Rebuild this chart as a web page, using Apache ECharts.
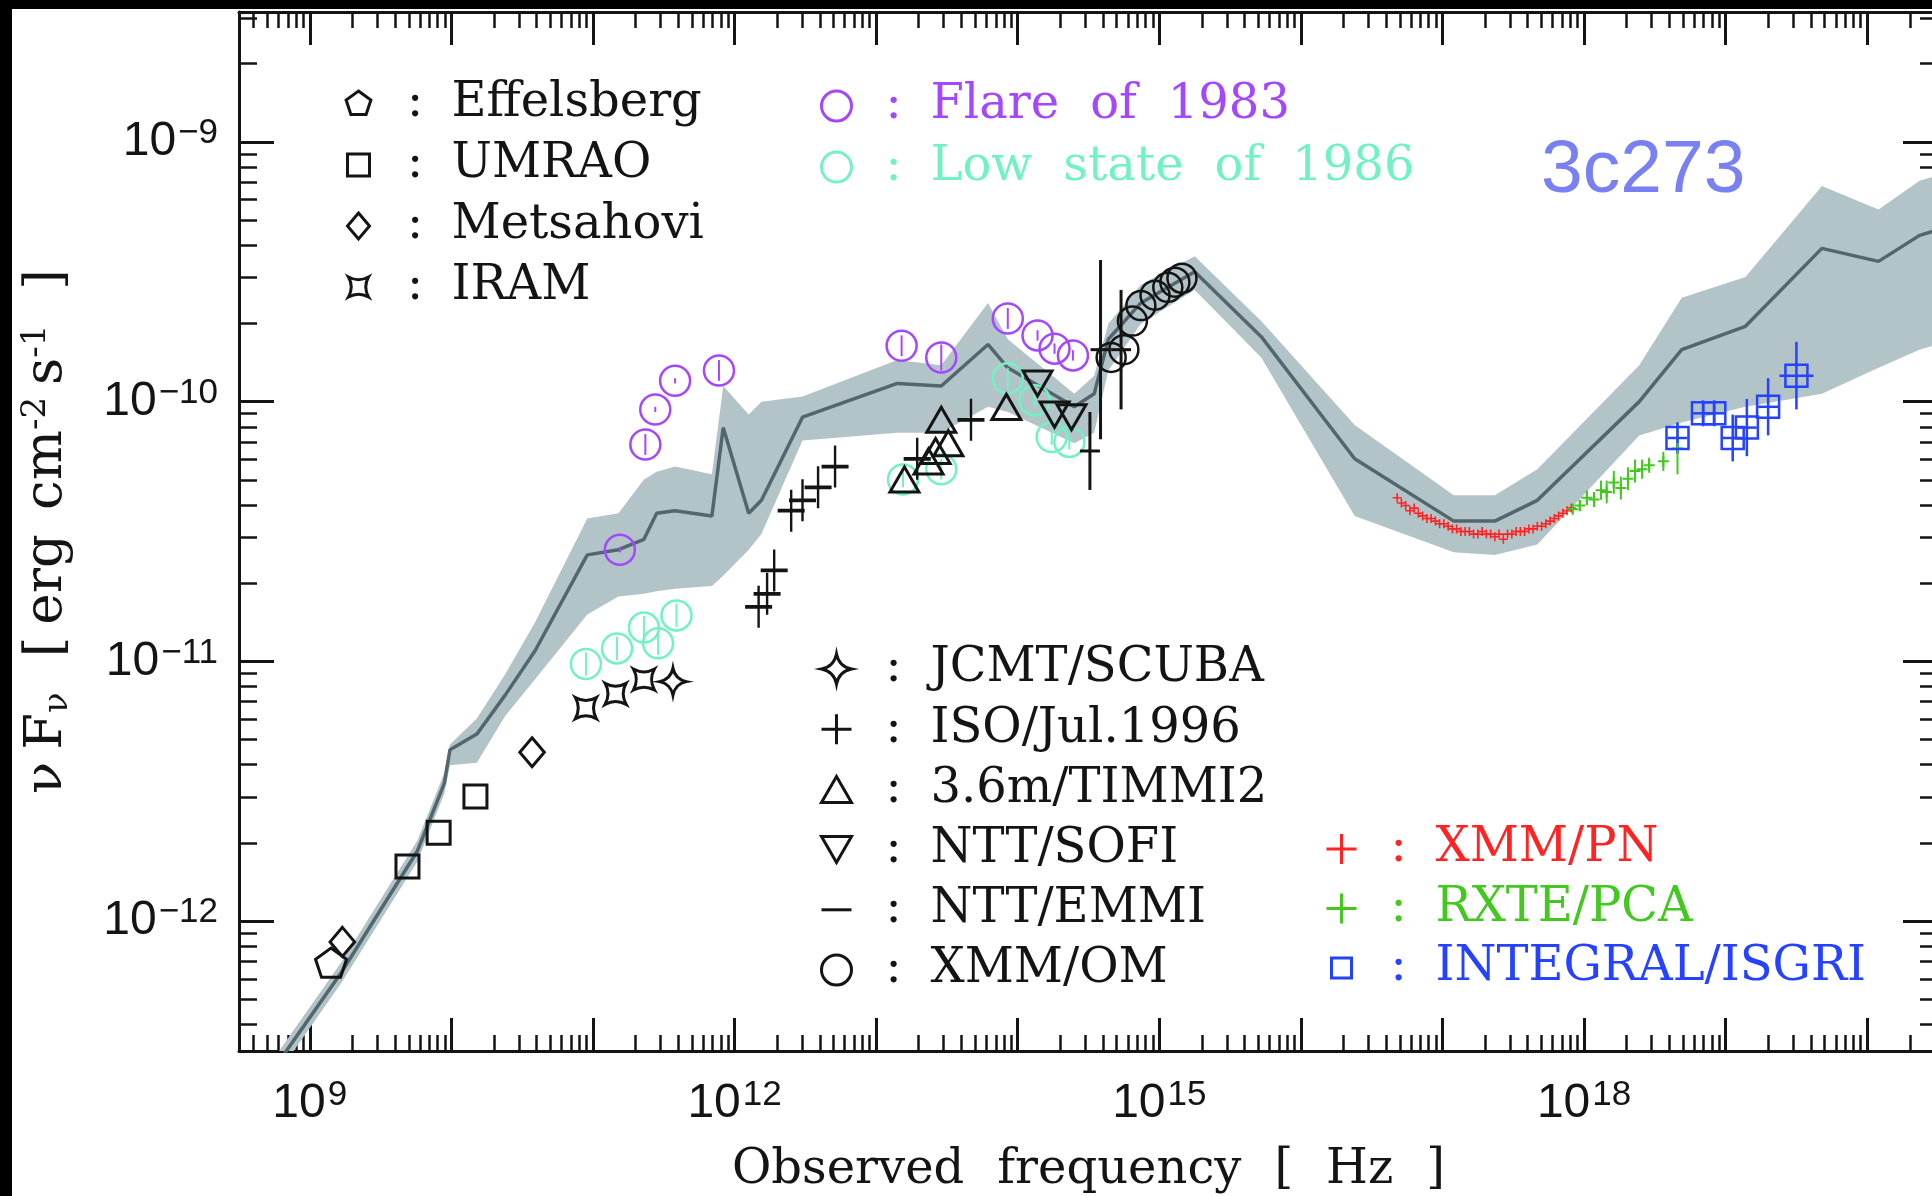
<!DOCTYPE html>
<html><head><meta charset="utf-8">
<script src="https://cdn.jsdelivr.net/npm/echarts@6/dist/echarts.min.js"></script>
<style>html,body{margin:0;padding:0;background:#fff}#c{width:1932px;height:1196px}</style>
</head><body><div id="c"></div>
<script>
// All values: [log10(frequency / Hz), log10(nuFnu / erg cm^-2 s^-1)]
const effelsberg = [[9.15, -12.16]];
const umrao = [[9.69, -11.79], [9.91, -11.66], [10.17, -11.52]];
const metsahovi = [[9.23, -12.08], [10.57, -11.35]];
const iram = [[10.95, -11.18], [11.16, -11.125], [11.36, -11.07]];
const jcmt = [[11.565, -11.078]];
const flare1983 = [[11.19, -10.57], [11.37, -10.165], [11.44, -10.03], [11.58, -9.92], [11.89, -9.88],
  [13.18, -9.785], [13.46, -9.83], [13.93, -9.68], [14.14, -9.745], [14.26, -9.796], [14.39, -9.822]];
const flareErr = [0.01, 0.04, 0.01, 0.01, 0.04, 0.04, 0.05, 0.04, 0.02, 0.02, 0.02];
const lowState1986 = [[10.95, -11.01], [11.17, -10.95], [11.36, -10.87], [11.46, -10.93], [11.59, -10.823],
  [13.19, -10.30], [13.46, -10.26], [13.93, -9.91], [14.12, -9.995], [14.24, -10.136], [14.365, -10.155]];
const lowErr = [0.045, 0.045, 0.045, 0.045, 0.045, 0.03, 0.04, 0.04, 0.03, 0.03, 0.03];
const iso = [[12.17, -10.79], [12.23, -10.74], [12.28, -10.65], [12.40, -10.42], [12.48, -10.38],
  [12.59, -10.33], [12.71, -10.25], [13.29, -10.22], [13.67, -10.07]];
const timmi2 = [[13.20, -10.30], [13.37, -10.23], [13.42, -10.19], [13.46, -10.07], [13.51, -10.16], [13.92, -10.02]];
const sofi = [[14.14, -9.93], [14.26, -10.05], [14.38, -10.06]];
const emmi = [[14.51, -10.19], [14.585, -9.80], [14.73, -9.80]];
const emmiErr = [0.15, 0.345, 0.23];
const xmmOM = [[14.66, -9.83], [14.75, -9.80], [14.81, -9.69], [14.87, -9.63], [14.97, -9.59],
  [15.06, -9.56], [15.11, -9.54], [15.16, -9.525]];
const xmmPN = [[16.68, -10.37], [16.71, -10.39], [16.74, -10.40], [16.77, -10.42], [16.80, -10.41], [16.83, -10.43],
  [16.86, -10.44], [16.89, -10.45], [16.92, -10.45], [16.95, -10.46], [16.98, -10.47], [17.01, -10.47],
  [17.04, -10.48], [17.07, -10.49], [17.10, -10.49], [17.13, -10.50], [17.16, -10.50], [17.19, -10.50],
  [17.22, -10.51], [17.25, -10.51], [17.28, -10.50], [17.31, -10.51], [17.34, -10.51], [17.37, -10.52],
  [17.40, -10.51], [17.43, -10.53], [17.46, -10.51], [17.49, -10.51], [17.52, -10.50], [17.55, -10.50],
  [17.58, -10.50], [17.61, -10.49], [17.64, -10.49], [17.67, -10.48], [17.70, -10.48], [17.73, -10.47],
  [17.76, -10.46], [17.79, -10.45], [17.82, -10.44], [17.85, -10.43], [17.88, -10.42], [17.91, -10.41]];
const rxte = [[17.92, -10.414], [17.97, -10.40], [18.02, -10.37], [18.07, -10.377], [18.12, -10.341],
  [18.16, -10.348], [18.21, -10.311], [18.26, -10.333], [18.31, -10.297], [18.36, -10.267],
  [18.41, -10.26], [18.46, -10.245], [18.56, -10.23], [18.66, -10.18]];
const rxteErr = [0.015, 0.022, 0.029, 0.029, 0.037, 0.044, 0.044, 0.044, 0.044, 0.044, 0.037, 0.029, 0.037, 0.10];
const integral = [[18.66, -10.14], [18.84, -10.045], [18.92, -10.045], [19.05, -10.14], [19.15, -10.10],
  [19.30, -10.02], [19.50, -9.90]];
const integralYErr = [0.06, 0.05, 0.05, 0.09, 0.11, 0.11, 0.13];
const integralXErr = [0.07, 0.07, 0.07, 0.07, 0.07, 0.07, 0.12];
// average SED (line) and its envelope (grey band)
const bandFreq = [8.50, 9.22, 9.76, 9.95, 9.99, 10.18, 10.38, 10.59, 10.96, 11.18, 11.36, 11.45, 11.58, 11.84, 11.92,
  12.10, 12.19, 12.48, 13.15, 13.46, 13.79, 13.93, 14.40, 14.54, 14.64, 14.87, 15.25, 15.72, 16.38, 17.08,
  17.37, 17.67, 18.39, 18.69, 19.14, 19.68, 20.08, 20.37, 20.55];
const bandMean = [-12.76, -12.20, -11.73, -11.47, -11.34, -11.28, -11.13, -10.96, -10.59, -10.57, -10.53, -10.43,
  -10.42, -10.44, -10.10, -10.43, -10.38, -10.06, -9.93, -9.94, -9.78, -9.87, -10.02, -9.97, -9.76, -9.62,
  -9.50, -9.75, -10.22, -10.46, -10.46, -10.38, -10.00, -9.80, -9.71, -9.41, -9.46, -9.36, -9.33];
const bandLow = [-12.80, -12.24, -11.77, -11.51, -11.40, -11.39, -11.21, -11.07, -10.82, -10.75, -10.74, -10.73,
  -10.72, -10.71, -10.67, -10.57, -10.51, -10.15, -10.12, -10.12, -10.02, -10.04, -10.16, -10.12, -9.88, -9.70,
  -9.57, -9.83, -10.44, -10.58, -10.59, -10.55, -10.13, -10.08, -10.02, -9.97, -9.87, -9.80, -9.77];
const bandHigh = [-12.72, -12.16, -11.69, -11.43, -11.32, -11.22, -11.05, -10.85, -10.45, -10.43, -10.30, -10.27,
  -10.25, -10.28, -9.94, -10.05, -10.00, -9.98, -9.84, -9.86, -9.62, -9.76, -9.97, -9.90, -9.70, -9.55,
  -9.44, -9.69, -10.09, -10.36, -10.36, -10.26, -9.86, -9.60, -9.52, -9.17, -9.26, -9.15, -9.12];
// axes (exponents)
const xRange = [8.5, 20.5];
const yRange = [-12.5, -8.5];
const xMajorExp = [9, 10, 11, 12, 13, 14, 15, 16, 17, 18, 19, 20];
const xLabelExp = [9, 12, 15, 18];
const yMajorExp = [-12, -11, -10, -9];

const P = v => Math.pow(10, v);
const INK = '#141414';
const PURPLE = '#a448ff', AQUA = '#72f2c4', RED = '#ff2424', GREEN = '#42c81e', BLUE = '#2442ff';
const SERIF = 'DejaVu Serif', SANS = 'Liberation Sans';

const minorOf = (lo, hi) => { const r = []; for (let n = Math.floor(lo); n <= Math.ceil(hi); n++) for (let k = 2; k <= 9; k++) { const v = k * Math.pow(10, n); if (v > P(lo) && v < P(hi)) r.push(v); } return r; };
const xMinor = minorOf(xRange[0], xRange[1]);
const yMinor = minorOf(yRange[0], yRange[1]);

const SYM = {
  pent: 'path://M0,-13L12.4,-4L7.6,10.5L-7.6,10.5L-12.4,-4Z',
  square: 'path://M-10,-10L10,-10L10,10L-10,10Z',
  diamond: 'path://M0,-13L11,0L0,13L-11,0Z',
  iram: 'path://M-10,-10Q0,-4.5 10,-10Q4.5,0 10,10Q0,4.5 -10,10Q-4.5,0 -10,-10Z',
  star: 'path://M0,-15Q2.5,-2.5 15,0Q2.5,2.5 0,15Q-2.5,2.5 -15,0Q-2.5,-2.5 0,-15Z',
  plus: 'path://M-15,0L15,0M0,-15L0,15',
  tri: 'path://M0,-13L15,13L-15,13Z',
  triDown: 'path://M-15,-13L15,-13L0,13Z',
  dash: 'path://M0,-15M-15,0L15,0M0,15'
};
const ICON = {
  pent: 'path://M-15,-15M15,15M0,-13L12.4,-4L7.6,10.5L-7.6,10.5L-12.4,-4Z',
  square: 'path://M-15,-15M15,15M-11,-11L11,-11L11,11L-11,11Z',
  diamond: 'path://M-15,-15M15,15M0,-13L11,0L0,13L-11,0Z',
  iram: 'path://M-15,-15M15,15M-10,-10Q0,-4.5 10,-10Q4.5,0 10,10Q0,4.5 -10,10Q-4.5,0 -10,-10Z',
  star: SYM.star, plus: SYM.plus, tri: SYM.tri, triDown: SYM.triDown, dash: SYM.dash,
  circle: 'circle',
  smallSquare: 'path://M-15,-15M15,15M-10,-10L10,-10L10,10L-10,10Z'
};

function scatter(name, pts, symbol, size, color, lw, extra) {
  return Object.assign({
    type: 'scatter', name, xAxisIndex: 0, yAxisIndex: 0, symbol, symbolSize: size, symbolKeepAspect: true,
    data: pts.map(p => [P(p[0]), P(p[1])]),
    itemStyle: { color: 'rgba(0,0,0,0)', borderColor: color, borderWidth: lw, opacity: 1 },
    emphasis: { disabled: true }, silent: true, z: 4
  }, extra || {});
}
function errorBars(name, pts, yerr, xerr, color, lw) {
  return {
    type: 'custom', name, xAxisIndex: 0, yAxisIndex: 0, clip: true, silent: true, z: 3,
    encode: { x: 0, y: 1 },
    data: pts.map((p, i) => [P(p[0]), P(p[1]), P(p[1] - yerr[i]), P(p[1] + yerr[i]),
      P(p[0] - (xerr ? xerr[i] : 0)), P(p[0] + (xerr ? xerr[i] : 0))]),
    renderItem(params, api) {
      const x = api.value(0), y = api.value(1);
      const a = api.coord([x, api.value(2)]), b = api.coord([x, api.value(3)]);
      const st = { stroke: color, lineWidth: lw };
      const ch = [{ type: 'line', shape: { x1: a[0], y1: a[1], x2: b[0], y2: b[1] }, style: st }];
      if (api.value(4) !== api.value(5)) {
        const c = api.coord([api.value(4), y]), d = api.coord([api.value(5), y]);
        ch.push({ type: 'line', shape: { x1: c[0], y1: c[1], x2: d[0], y2: d[1] }, style: st });
      }
      return { type: 'group', children: ch };
    }
  };
}

const bandData = bandFreq.map((f, i) => [P(f), P(bandLow[i]), P(bandHigh[i])]);
const bandSeries = {
  type: 'custom', name: 'envelope', xAxisIndex: 0, yAxisIndex: 0, clip: true, silent: true, z: 1,
  encode: { x: 0, y: [1, 2] }, data: bandData,
  renderItem(params, api) {
    if (params.dataIndex !== 0) return null;
    const up = bandData.map(d => api.coord([d[0], d[2]]));
    const lo = bandData.map(d => api.coord([d[0], d[1]])).reverse();
    return { type: 'polygon', shape: { points: up.concat(lo) }, style: { fill: '#b3c4c9' } };
  }
};
const meanSeries = {
  type: 'line', name: 'average', xAxisIndex: 0, yAxisIndex: 0, z: 2, silent: true, showSymbol: false, symbol: 'none',
  data: bandFreq.map((f, i) => [P(f), P(bandMean[i])]),
  lineStyle: { color: '#52666e', width: 3.5 }, clip: true, animation: false
};

// words joined by wide (fixed-width) spaces, like the original plot font
const spaced = (txt, tok, sp) => txt.split(' ').map(w => '{' + tok + '|' + w + '}').join('{' + sp + '| }');

const legItem = (name, icon, color, textColor) => ({
  name, icon, itemStyle: { color: 'rgba(0,0,0,0)', borderColor: color, borderWidth: 3 },
  textStyle: { color: textColor || color }
});
function legend(left, top, gap, colW, items) {
  return {
    show: true, orient: 'vertical', left, top, padding: 0, itemGap: gap, itemWidth: 30, itemHeight: 30,
    selectedMode: false, symbolKeepAspect: true, data: items,
    formatter: n => '{c|:}' + spaced(n, 't', 's'),
    textStyle: {
      color: INK,
      rich: {
        c: { width: colW, align: 'center', fontSize: 48, lineHeight: 40, fontFamily: SERIF },
        t: { fontSize: 48, lineHeight: 40, fontFamily: SERIF },
        s: { width: 31, fontSize: 48, lineHeight: 40, fontFamily: SERIF }
      }
    }
  };
}
const tickLabel = v => { const e = Math.round(Math.log10(v)); return '{b|10}{s|' + String(e).replace('-', '\u2212') + '}'; };
const labelRich = {
  b: { fontSize: 48, lineHeight: 52, fontFamily: SANS, color: INK },
  s: { fontSize: 35, lineHeight: 34, verticalAlign: 'top', fontFamily: SANS, color: INK, padding: [0, 0, 0, 2] }
};
function axis(kind, pos, ticks, len, lw, showLine, labels, extra) {
  return Object.assign({
    type: 'log', logBase: 10, gridIndex: 0, position: pos,
    min: P(kind === 'x' ? xRange[0] : yRange[0]), max: P(kind === 'x' ? xRange[1] : yRange[1]),
    axisLine: { show: showLine, lineStyle: { color: INK, width: 3 } },
    axisTick: { show: true, inside: true, length: len, customValues: ticks, lineStyle: { color: INK, width: lw } },
    axisLabel: labels ? { show: true, customValues: labels, formatter: tickLabel, rich: labelRich, margin: kind === 'x' ? 27 : 21 } : { show: false },
    splitLine: { show: false }, minorTick: { show: false }, minorSplitLine: { show: false }
  }, extra || {});
}
const xMajor = xMajorExp.map(P), xLab = xLabelExp.map(P), yMajor = yMajorExp.map(P);

const option = {
  animation: false,
  backgroundColor: '#fff',
  textStyle: { fontFamily: SERIF },
  title: { text: '3c273', left: 1541, top: 134, padding: 0,
    textStyle: { fontSize: 75, fontWeight: 'normal', color: '#7880f2', fontFamily: 'Liberation Sans' } },
  grid: { left: 239, top: 12, width: 1699, height: 1039, show: false, containLabel: false, outerBoundsMode: 'none' },
  xAxis: [
    axis('x', 'bottom', xMajor, 33, 3, true, xLab, {
      name: spaced('Observed frequency [ Hz ]', 'a', 's'), nameLocation: 'middle', nameGap: 92,
      nameTextStyle: {
        color: INK,
        rich: {
          a: { fontSize: 48, lineHeight: 56, fontFamily: SERIF, color: INK },
          s: { width: 33, fontSize: 48, lineHeight: 56, fontFamily: SERIF }
        }
      }
    }),
    axis('x', 'bottom', xMinor, 16, 2.5, false, null),
    axis('x', 'top', xMajor, 33, 3, true, null),
    axis('x', 'top', xMinor, 16, 2.5, false, null)
  ],
  yAxis: [
    axis('y', 'left', yMajor, 35, 3, true, yMajor, {
      name: '{a|ν}{s1| }{a|F}{sub|ν}{s3| }{a|[}{s0| }{a|erg}{s2| }{a|cm}{sup|-2}{s0| }{a|s}{sup|-1}{s3| }{a|]}',
      nameLocation: 'middle', nameRotate: 90, nameGap: 164,
      nameTextStyle: {
        color: INK,
        rich: {
          a: { fontSize: 53, lineHeight: 56, fontFamily: SERIF, color: INK },
          sub: { fontSize: 34, lineHeight: 34, verticalAlign: 'bottom', fontFamily: SERIF, color: INK },
          sup: { fontSize: 34, lineHeight: 34, verticalAlign: 'top', fontFamily: SERIF, color: INK },
          s0: { width: 12, fontSize: 53, lineHeight: 56, fontFamily: SERIF },
          s1: { width: 12, fontSize: 53, lineHeight: 56, fontFamily: SERIF },
          s2: { width: 24, fontSize: 53, lineHeight: 56, fontFamily: SERIF },
          s3: { width: 35, fontSize: 53, lineHeight: 56, fontFamily: SERIF }
        }
      }
    }),
    axis('y', 'left', yMinor, 18, 2.5, false, null),
    axis('y', 'right', yMajor, 35, 3, true, null),
    axis('y', 'right', yMinor, 18, 2.5, false, null)
  ],
  legend: [
    legend(342, 80, 13, 73, [
      legItem('Effelsberg', ICON.pent, INK), legItem('UMRAO', ICON.square, INK),
      legItem('Metsahovi', ICON.diamond, INK), legItem('IRAM', ICON.iram, INK)]),
    legend(820, 82, 13.1, 74, [
      legItem('Flare of 1983', ICON.circle, PURPLE), legItem('Low state of 1986', ICON.circle, AQUA)]),
    legend(820, 645, 12.2, 74, [
      legItem('JCMT/SCUBA', ICON.star, INK), legItem('ISO/Jul.1996', ICON.plus, INK),
      legItem('3.6m/TIMMI2', ICON.tri, INK), legItem('NTT/SOFI', ICON.triDown, INK),
      legItem('NTT/EMMI', ICON.dash, INK), legItem('XMM/OM', ICON.circle, INK)]),
    legend(1325, 825, 11.5, 74, [
      legItem('XMM/PN', ICON.plus, RED), legItem('RXTE/PCA', ICON.plus, GREEN),
      legItem('INTEGRAL/ISGRI', ICON.smallSquare, BLUE)])
  ],
  graphic: [
    { type: 'rect', shape: { x: 0, y: 0, width: 1932, height: 9 }, style: { fill: '#000' }, z: 100 },
    { type: 'rect', shape: { x: 0, y: 0, width: 12, height: 1196 }, style: { fill: '#000' }, z: 100 }
  ],
  series: [
    bandSeries, meanSeries,
    errorBars('Flare of 1983 error', flare1983, flareErr, null, PURPLE, 2),
    errorBars('Low state of 1986 error', lowState1986, lowErr, null, AQUA, 2),
    errorBars('NTT/EMMI error', emmi, emmiErr, null, INK, 3),
    errorBars('RXTE/PCA error', rxte, rxteErr, null, GREEN, 2),
    errorBars('INTEGRAL/ISGRI error', integral, integralYErr, integralXErr, BLUE, 2.5),
    scatter('Effelsberg', effelsberg, SYM.pent, 31, INK, 3),
    scatter('UMRAO', umrao, SYM.square, 23, INK, 3),
    scatter('Metsahovi', metsahovi, SYM.diamond, 29, INK, 3),
    scatter('IRAM', iram, SYM.iram, 21, INK, 3),
    scatter('JCMT/SCUBA', jcmt, SYM.star, 27, INK, 3),
    scatter('Flare of 1983', flare1983, 'circle', 30, PURPLE, 2.5),
    scatter('Low state of 1986', lowState1986, 'circle', 30, AQUA, 2.5),
    scatter('ISO/Jul.1996', iso, SYM.plus, [27, 42], INK, 3, { symbolKeepAspect: false }),
    scatter('3.6m/TIMMI2', timmi2, SYM.tri, 29, INK, 3),
    scatter('NTT/SOFI', sofi, SYM.triDown, 29, INK, 3),
    scatter('NTT/EMMI', emmi, SYM.dash, 20, INK, 3),
    scatter('XMM/OM', xmmOM, 'circle', 29, INK, 2.5),
    scatter('XMM/PN', xmmPN, SYM.plus, 9, RED, 1.6),
    scatter('RXTE/PCA', rxte, SYM.plus, 11, GREEN, 2),
    scatter('INTEGRAL/ISGRI', integral, SYM.square, 22, BLUE, 2.5)
  ]
};
const chart = echarts.init(document.getElementById('c'), null, { renderer: 'canvas' });
chart.setOption(option);
</script>
</body></html>
